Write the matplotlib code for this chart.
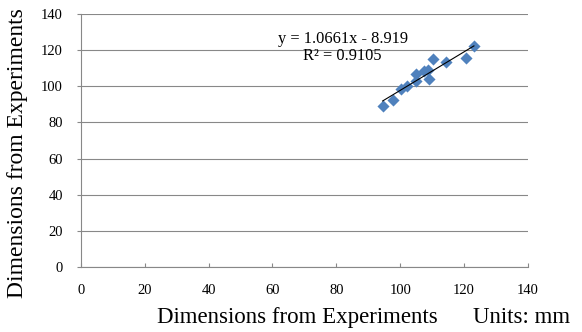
import numpy as np
import matplotlib.pyplot as plt

plt.rcParams['font.family'] = ['Liberation Serif', 'DejaVu Serif']

# values
x_exp = [94.5, 97.9, 100.4, 102.0, 104.9, 105.1, 107.5, 108.8, 109.0, 110.4, 114.2, 120.7, 123.1]
y_exp = [89.1, 92.6, 98.7, 100.0, 102.8, 106.7, 108.5, 108.9, 103.9, 115.0, 113.2, 115.4, 122.2]
slope = 1.0661
intercept = -8.919
r2 = 0.9105
ticks = [0, 20, 40, 60, 80, 100, 120, 140]

fig = plt.figure(figsize=(5.82, 3.32), dpi=100)
ax = fig.add_axes([0.139, 0.196, 0.768, 0.762])

ax.scatter(x_exp, y_exp, marker='D', s=38, color='#4F81BD', zorder=3, linewidths=0)
xt = np.array([min(x_exp), max(x_exp)])
ax.plot(xt, slope * xt + intercept, color='black', lw=0.8, zorder=4)

ax.set_xlim(0, 140)
ax.set_ylim(0, 140)
ax.set_xticks(ticks)
ax.set_yticks(ticks)
ax.yaxis.grid(True, color='#888888', lw=0.8)
ax.set_axisbelow(True)
for s in ['top', 'right']:
    ax.spines[s].set_visible(False)
for s in ['left', 'bottom']:
    ax.spines[s].set_color('#888888')
ax.tick_params(colors='#888888', labelcolor='black', labelsize=10.5, length=3)
ax.tick_params(axis='x', direction='in', pad=12)
ax.tick_params(axis='y', pad=10)

ax.text(82, 124, 'y = 1.0661x - 8.919', fontsize=11.8, ha='center', va='baseline')
ax.text(82, 114.4, 'R² = 0.9105', fontsize=11.8, ha='center', va='baseline')

fig.text(0.030, 0.54, 'Dimensions from Experiments', rotation=90, fontsize=17, ha='center', va='center')
fig.text(0.511, 0.045, 'Dimensions from Experiments', fontsize=16.5, ha='center', va='center')
fig.text(0.813, 0.045, 'Units: mm', fontsize=16.5, ha='left', va='center')

fig.savefig('out.png', dpi=100)
